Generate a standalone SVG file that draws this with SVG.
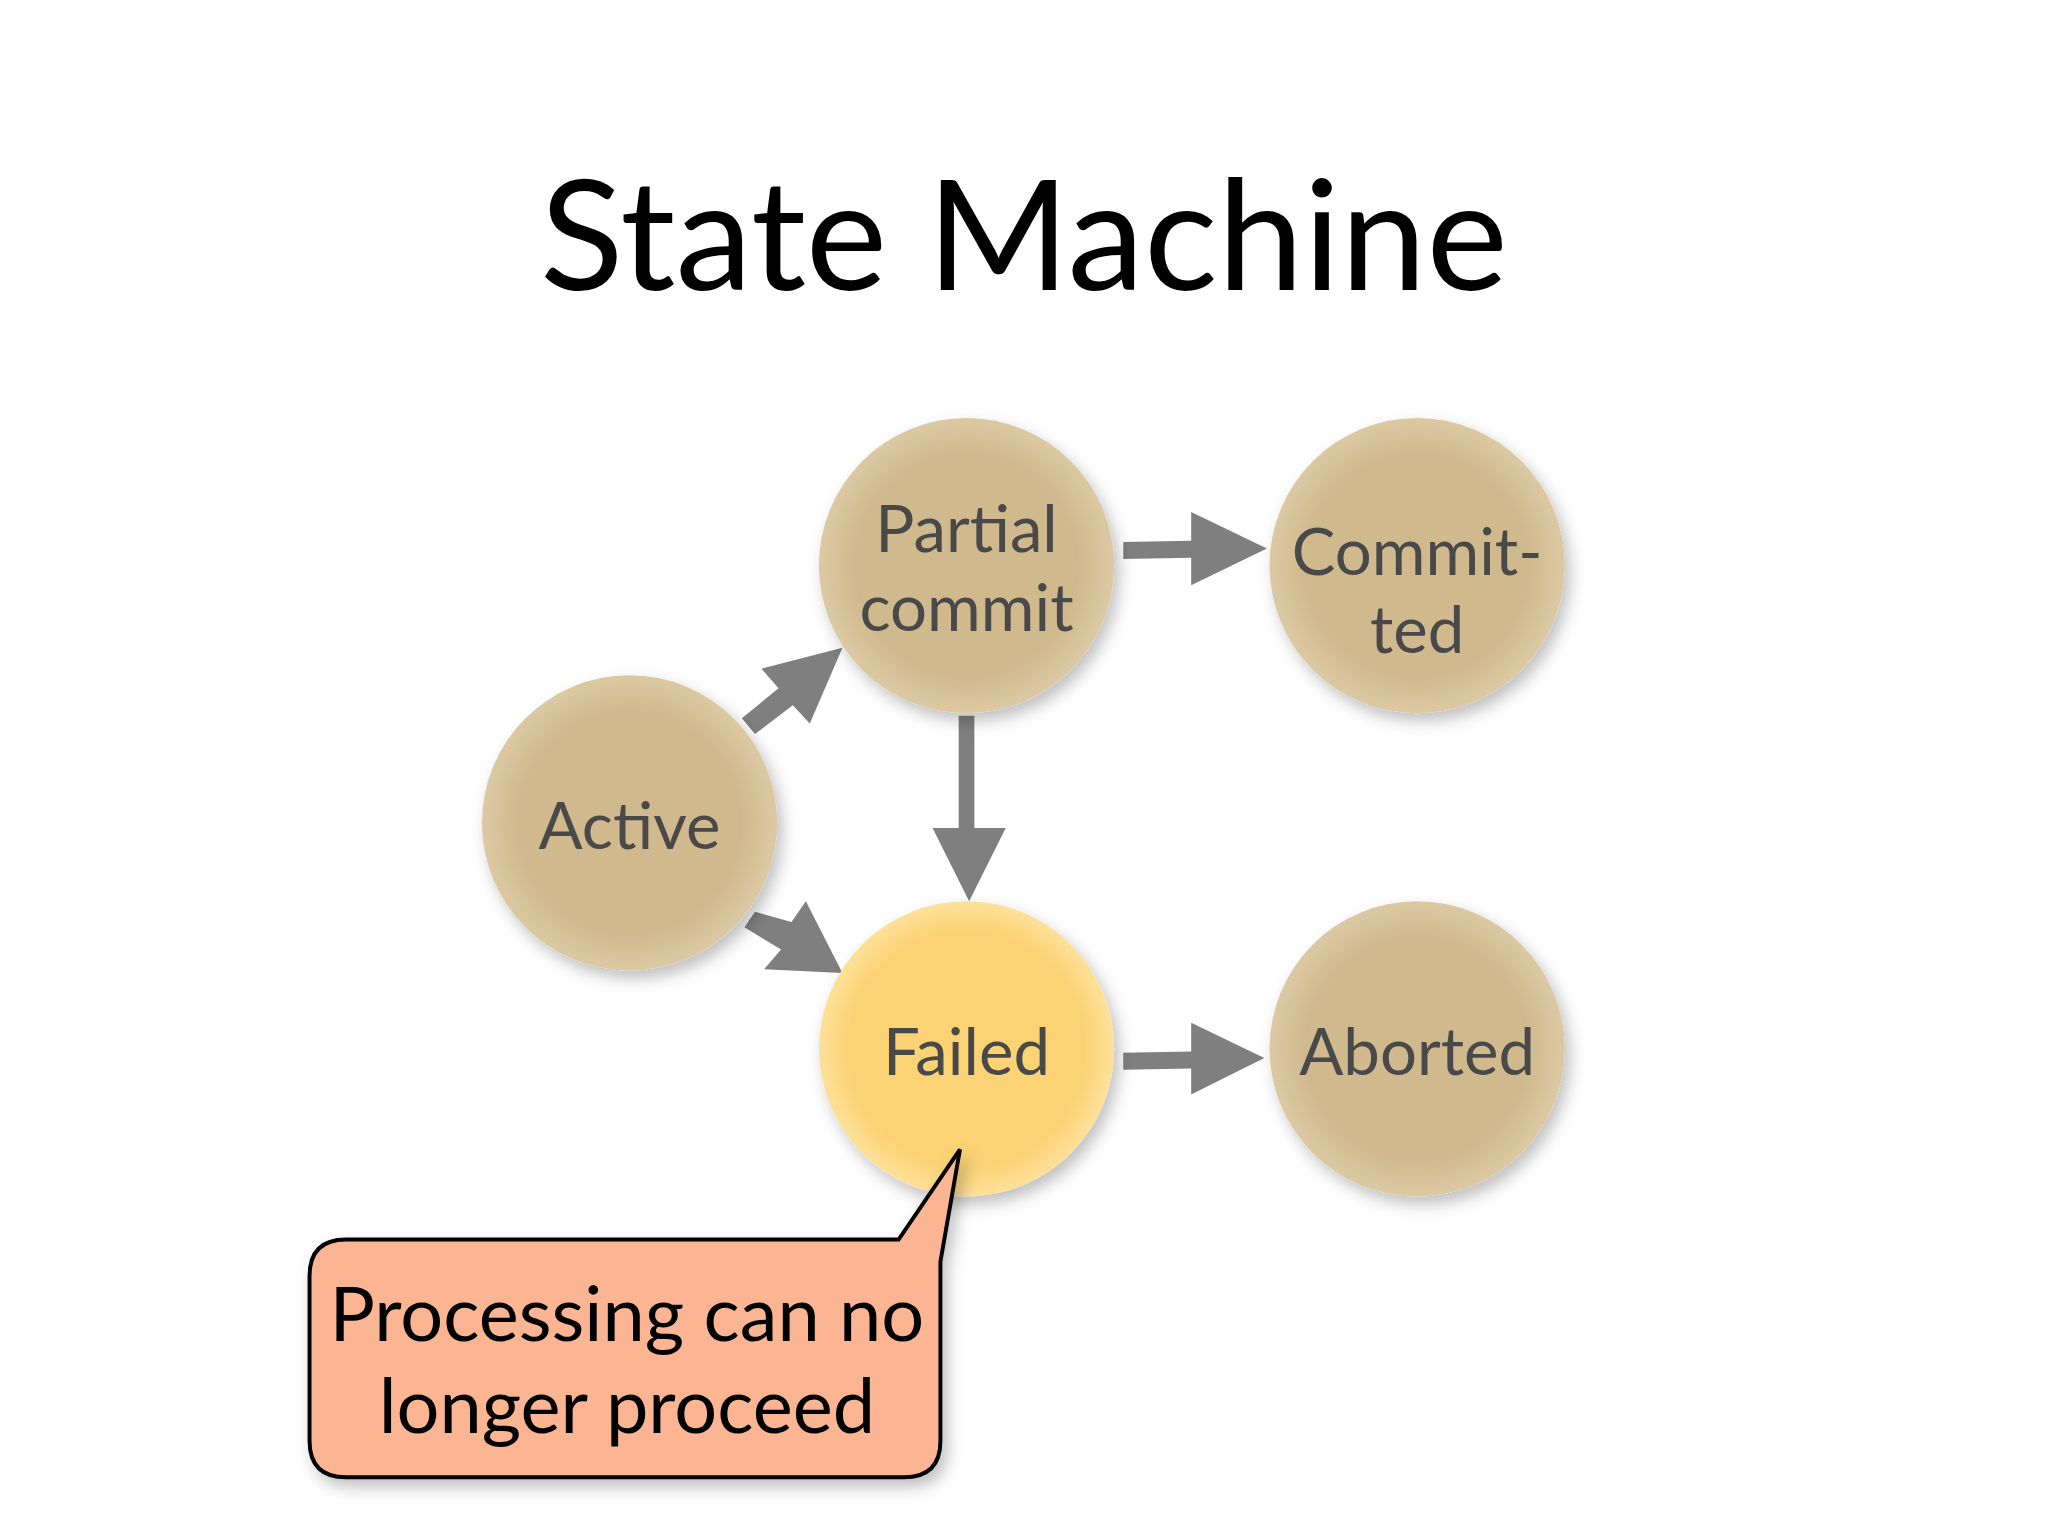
<svg xmlns="http://www.w3.org/2000/svg" width="2048" height="1536" viewBox="0 0 2048 1536">
<style>
.t{font-family:"Lato","Open Sans","Liberation Sans",sans-serif;text-anchor:middle}
.n{font-size:50px;fill:#4a4a4a}
.a{fill:#7f7f7f}
</style>
<defs>
<radialGradient id="g" cx="50%" cy="50%" r="50%"><stop offset="0.75" stop-color="#d0b98d"/><stop offset="1" stop-color="#dcc9a3"/></radialGradient>
<radialGradient id="gf" cx="50%" cy="50%" r="50%"><stop offset="0.8" stop-color="#fbd374"/><stop offset="1" stop-color="#fde09a"/></radialGradient>
<filter id="sh" x="-20%" y="-20%" width="150%" height="150%"><feDropShadow dx="4" dy="6" stdDeviation="6" flood-opacity="0.25"/></filter>
</defs>
<rect width="2048" height="1536" fill="#ffffff"/>
<g transform="scale(1.30612)">
<text class="t" x="784" y="222" font-size="118" fill="#000">State Machine</text>
<g id="connectors" class="a">
<path d="M860 415 L912 414 L912 392 L970 420 L912 448 L912 427 L860 428 Z"/>
<path d="M734 548 L746 548 L746 634 L770 634 L742 690 L714 634 L734 634 Z"/>
<path d="M568 550 L596 527 L583 512 L645 496 L620 554 L607 540 L578 562 Z"/>
<path d="M570 710 L598 727 L585 742 L645 745 L617 690 L606 706 L578 698 Z"/>
<path d="M860 806 L912 805 L912 783 L968 810 L912 838 L912 818 L860 819 Z"/>
</g>
<g id="partial" filter="url(#sh)"><circle cx="740" cy="433" r="113" fill="url(#g)"/><text class="t n" x="740" y="423">Partial</text><text class="t n" x="740" y="483">commit</text></g>
<g id="committed" filter="url(#sh)"><circle cx="1085" cy="433" r="113" fill="url(#g)"/><text class="t n" x="1085" y="440">Commit-</text><text class="t n" x="1085" y="500">ted</text></g>
<g id="active" filter="url(#sh)"><circle cx="482" cy="630" r="113" fill="url(#g)"/><text class="t n" x="482" y="650">Active</text></g>
<g id="failed" filter="url(#sh)"><circle cx="740" cy="803" r="113" fill="url(#gf)"/><text class="t n" x="740" y="823" fill="#111">Failed</text></g>
<g id="aborted" filter="url(#sh)"><circle cx="1085" cy="803" r="113" fill="url(#g)"/><text class="t n" x="1085" y="823">Aborted</text></g>
<g id="callout" filter="url(#sh)">
<path d="M265 949 L688 949 L735 880 L720 966 L720 1103 Q720 1131 692 1131 L265 1131 Q237 1131 237 1103 L237 977 Q237 949 265 949 Z" fill="#fbb592" stroke="#000" stroke-width="3"/>
<text class="t" x="480" y="1027" font-size="58" fill="#000">Processing can no</text>
<text class="t" x="480" y="1097" font-size="58" fill="#000">longer proceed</text>
</g>
</g>
</svg>
